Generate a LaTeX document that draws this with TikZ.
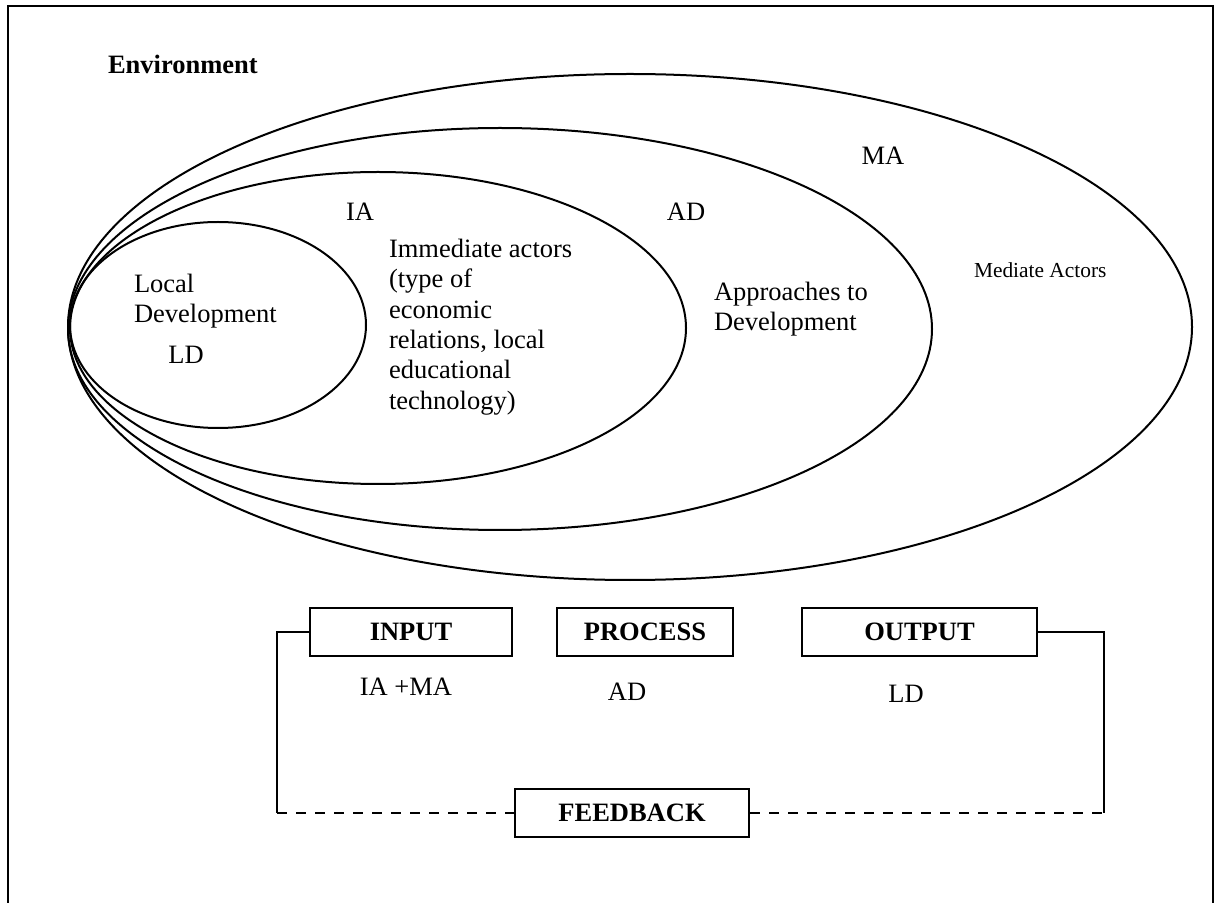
\documentclass[tikz,border=0pt]{standalone}
\usepackage{fontspec}
\setmainfont{Liberation Serif}
\begin{document}
\begin{tikzpicture}[x=0.5pt,y=-0.5pt,line width=1pt,
    txt/.style={font=\fontsize{13.25}{15.2}\selectfont,inner sep=0pt},
    small/.style={font=\fontsize{10.7}{13}\selectfont,inner sep=0pt},
    sysbox/.style={draw,font=\fontsize{13.25}{15.2}\selectfont\bfseries,
      minimum height=24pt,inner sep=0pt}]
  \useasboundingbox (0,0) rectangle (1216,903);
  \draw (8,903) -- (8,6) -- (1213,6) -- (1213,903);
  % nested fields
  \draw (630,327) ellipse [x radius=281pt,y radius=126.5pt];
  \draw (500,329) ellipse [x radius=216pt,y radius=100.5pt];
  \draw (378,328) ellipse [x radius=154pt,y radius=78pt];
  \draw (218,325) ellipse [x radius=74pt,y radius=51.5pt];
  \node[txt,font=\fontsize{13.25}{15.2}\selectfont\bfseries,anchor=west] (env) at (107,64) {Environment};
  \node[txt] (MA) at (883,156) {MA};
  \node[txt] (IA) at (360,212) {IA};
  \node[txt] (AD) at (686,212) {AD};
  \node[txt,align=left,anchor=north west] (IAtext) at (388,238) {Immediate actors\\(type of\\economic\\relations, local\\educational\\technology)};
  \node[txt,align=left,anchor=north west] (LDtext) at (133,273) {Local\\Development};
  \node[txt] (LD) at (186,355) {LD};
  \node[txt,align=left,anchor=north west] (ADtext) at (713,281) {Approaches to\\Development};
  \node[small,anchor=west] (MAtext) at (973,270) {Mediate Actors};
  % system loop
  \node[sysbox,minimum width=101pt] (input) at (411,632) {INPUT};
  \node[sysbox,minimum width=88pt] (process) at (645,632) {PROCESS};
  \node[sysbox,minimum width=117.5pt] (output) at (919.5,632) {OUTPUT};
  \node[sysbox,minimum width=117pt] (feedback) at (632,813) {FEEDBACK};
  \node[txt] (in) at (406,687) {IA +MA};
  \node[txt] (proc) at (627,692) {AD};
  \node[txt] (out) at (906,694) {LD};
  \coordinate (fbl) at (277,813);
  \coordinate (fbr) at (1104,813);
  \draw (input.west) -| (fbl);
  \draw (output.east) -| (fbr);
  \draw[dash pattern=on 5pt off 4.5pt] (fbl) -- (feedback.west);
  \draw[dash pattern=on 5pt off 4.5pt] (feedback.east) -- (fbr);
\end{tikzpicture}
\end{document}
